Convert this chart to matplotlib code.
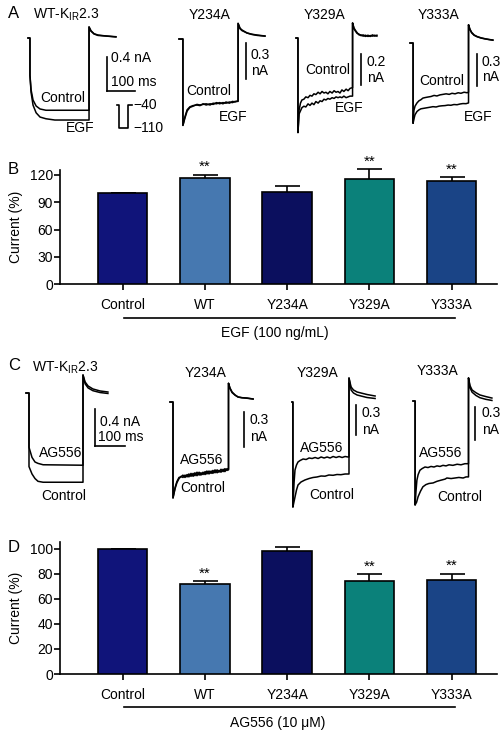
import matplotlib
matplotlib.use("Agg")

import numpy as np
import matplotlib.pyplot as plt
from matplotlib.transforms import blended_transform_factory

plt.rcParams["font.family"] = ["Liberation Sans", "DejaVu Sans"]
plt.rcParams["mathtext.default"] = "regular"
plt.rcParams["font.size"] = 10

W, H = 502, 733

# -------------------------------
# Bar data (current, % of control)
# -------------------------------
groups = ["Control", "WT", "Y234A", "Y329A", "Y333A"]
egf_mean = [100, 116.4, 101.3, 115.6, 113.0]
egf_sem = [0, 3.9, 6.3, 10.4, 4.5]
ag_mean = [100, 72.1, 98.4, 74.0, 75.3]
ag_sem = [0, 2.1, 3.2, 5.6, 4.7]
sig = ["", "**", "", "**", "**"]
bar_colors = ["#10147a", "#4678b0", "#0b0f5e", "#0b817a", "#1a4486"]

# -------------------------------
# Current traces: [time (ms), current (nA)]
# -------------------------------
egf_wt_ctrl = np.array([[0, 0], [7, 0], [7, -0.44], [11, -0.61], [18, -0.73], [29, -0.80], [43, -0.835],
                        [64, -0.85], [218, -0.85], [218, 0.13], [225, 0.08], [236, 0.047], [250, 0.03],
                        [275, 0.024], [314, 0.012]])
egf_wt_egf = np.array([[0, 0], [7, 0], [7, -0.44], [11, -0.64], [18, -0.79], [29, -0.88], [43, -0.93],
                       [64, -0.95], [96, -0.965], [218, -0.965], [218, 0.13], [225, 0.085], [236, 0.05],
                       [250, 0.035], [275, 0.025], [314, 0.015]])

egf_234_ctrl = np.array([[0, 0], [14, 0], [14, -0.72], [21, -0.65], [29, -0.59], [39, -0.565], [50, -0.555],
                         [64, -0.55], [75, -0.555], [86, -0.54], [97, -0.55], [111, -0.54], [122, -0.545],
                         [134, -0.53], [145, -0.54], [157, -0.53], [168, -0.535], [180, -0.525], [191, -0.53],
                         [200, -0.52], [211, -0.52], [211, 0.13], [218, 0.09], [225, 0.075], [243, 0.05],
                         [260, 0.04], [279, 0.033], [307, 0.025]])
egf_234_egf = np.array([[0, 0], [14, 0], [14, -0.72], [21, -0.66], [29, -0.60], [39, -0.57], [50, -0.56],
                        [64, -0.545], [75, -0.55], [86, -0.545], [97, -0.54], [111, -0.55], [122, -0.535],
                        [134, -0.54], [145, -0.53], [157, -0.54], [168, -0.525], [180, -0.535], [191, -0.52],
                        [200, -0.525], [211, -0.515], [211, 0.13], [218, 0.085], [225, 0.07], [243, 0.05],
                        [260, 0.038], [279, 0.03], [307, 0.024]])

egf_329_ctrl = np.array([[0, 0], [7, 0], [7, -0.61], [11, -0.465], [16, -0.42], [21, -0.40], [28, -0.395],
                         [35, -0.38], [43, -0.385], [50, -0.37], [57, -0.375], [64, -0.36], [71, -0.365],
                         [79, -0.35], [86, -0.36], [93, -0.345], [100, -0.355], [107, -0.35], [114, -0.36],
                         [121, -0.345], [129, -0.355], [136, -0.34], [143, -0.35], [150, -0.345], [157, -0.355],
                         [164, -0.335], [171, -0.345], [179, -0.33], [186, -0.34], [193, -0.325], [202, -0.32],
                         [202, 0.097], [207, 0.06], [212, 0.045], [218, 0.03], [225, 0.025], [232, 0.015],
                         [240, 0.02], [248, 0.01], [257, 0.018], [265, 0.01], [273, 0.02], [281, 0.012],
                         [289, 0.018]])
egf_329_egf = np.array([[0, 0], [7, 0], [7, -0.61], [11, -0.49], [16, -0.47], [21, -0.45], [28, -0.44],
                        [35, -0.445], [43, -0.425], [50, -0.435], [57, -0.42], [64, -0.43], [71, -0.41],
                        [79, -0.42], [86, -0.405], [93, -0.41], [100, -0.395], [107, -0.40], [114, -0.39],
                        [121, -0.395], [129, -0.385], [136, -0.39], [143, -0.38], [150, -0.385], [157, -0.38],
                        [164, -0.385], [171, -0.375], [179, -0.385], [186, -0.38], [193, -0.375], [202, -0.375],
                        [202, 0.097], [207, 0.065], [212, 0.05], [218, 0.035], [225, 0.02], [232, 0.02],
                        [240, 0.012], [248, 0.018], [257, 0.01], [265, 0.016], [273, 0.012], [281, 0.018],
                        [289, 0.012]])

egf_333_ctrl = np.array([[0, 0], [11, 0], [11, -0.75], [14, -0.63], [18, -0.59], [25, -0.56], [32, -0.54],
                         [39, -0.53], [46, -0.515], [54, -0.51], [64, -0.505], [75, -0.50], [86, -0.49],
                         [96, -0.495], [107, -0.485], [118, -0.48], [129, -0.475], [140, -0.48], [150, -0.47],
                         [161, -0.475], [172, -0.465], [182, -0.47], [193, -0.46], [204, -0.465], [209, -0.46],
                         [209, 0.17], [214, 0.13], [220, 0.10], [229, 0.075], [240, 0.06], [254, 0.048],
                         [268, 0.04], [282, 0.033], [296, 0.028]])
egf_333_egf = np.array([[0, 0], [11, 0], [11, -0.75], [15, -0.70], [18, -0.67], [25, -0.64], [32, -0.625],
                        [39, -0.615], [50, -0.61], [61, -0.605], [72, -0.60], [82, -0.595], [93, -0.598],
                        [104, -0.59], [114, -0.587], [125, -0.585], [136, -0.58], [146, -0.582], [157, -0.575],
                        [168, -0.577], [179, -0.57], [189, -0.566], [200, -0.567], [209, -0.56], [209, 0.17],
                        [214, 0.125], [220, 0.095], [229, 0.072], [240, 0.058], [254, 0.046], [268, 0.038],
                        [282, 0.032], [296, 0.026]])

ag_wt_ag = np.array([[0, 0], [10, 0], [10, -0.59], [20, -0.70], [30, -0.75], [40, -0.765], [57, -0.78],
                     [190, -0.785], [190, 0.196], [197, 0.12], [207, 0.076], [223, 0.044], [247, 0.022],
                     [273, 0.011]])
ag_wt_ctrl = np.array([[0, 0], [10, 0], [10, -0.80], [20, -0.88], [30, -0.93], [40, -0.96], [57, -0.97],
                       [190, -0.97], [190, 0.196], [197, 0.10], [207, 0.055], [223, 0.025], [247, 0.005],
                       [273, -0.005]])

ag_234_ag = np.array([[0, 0], [10, 0], [10, -0.82], [17, -0.73], [23, -0.68], [30, -0.645], [37, -0.64],
                      [43, -0.625], [50, -0.645], [57, -0.62], [63, -0.64], [70, -0.61], [77, -0.635],
                      [83, -0.605], [90, -0.63], [97, -0.60], [103, -0.625], [110, -0.60], [117, -0.62],
                      [123, -0.59], [130, -0.615], [137, -0.59], [143, -0.61], [150, -0.58], [157, -0.605],
                      [163, -0.585], [170, -0.60], [177, -0.575], [183, -0.595], [190, -0.57], [195, -0.58],
                      [195, 0.16], [200, 0.12], [207, 0.085], [217, 0.06], [227, 0.043], [240, 0.037],
                      [257, 0.034], [277, 0.026]])
ag_234_ctrl = np.array([[0, 0], [10, 0], [10, -0.82], [17, -0.74], [23, -0.69], [30, -0.655], [37, -0.635],
                        [43, -0.645], [50, -0.625], [57, -0.64], [63, -0.615], [70, -0.635], [77, -0.61],
                        [83, -0.63], [90, -0.60], [97, -0.625], [103, -0.605], [110, -0.62], [117, -0.595],
                        [123, -0.615], [130, -0.59], [137, -0.61], [143, -0.585], [150, -0.605], [157, -0.58],
                        [163, -0.60], [170, -0.575], [177, -0.595], [183, -0.57], [190, -0.585], [195, -0.575],
                        [195, 0.16], [200, 0.115], [207, 0.08], [217, 0.058], [227, 0.042], [240, 0.036],
                        [257, 0.032], [277, 0.025]])

ag_329_ag = np.array([[0, 0], [3, 0], [3, -1.05], [7, -0.80], [10, -0.68], [15, -0.63], [20, -0.60],
                      [27, -0.585], [37, -0.57], [47, -0.575], [57, -0.56], [67, -0.565], [77, -0.555],
                      [87, -0.565], [97, -0.55], [107, -0.56], [117, -0.55], [127, -0.56], [137, -0.545],
                      [147, -0.555], [157, -0.545], [167, -0.555], [177, -0.545], [187, -0.55], [190, -0.55],
                      [190, 0.24], [197, 0.15], [205, 0.12], [217, 0.10], [230, 0.09], [250, 0.075],
                      [277, 0.06]])
ag_329_ctrl = np.array([[0, 0], [3, 0], [3, -1.05], [10, -0.95], [15, -0.88], [20, -0.83], [30, -0.80],
                        [43, -0.78], [57, -0.765], [70, -0.755], [83, -0.75], [97, -0.74], [110, -0.742],
                        [123, -0.73], [137, -0.733], [150, -0.725], [163, -0.727], [177, -0.72], [190, -0.72],
                        [190, 0.24], [197, 0.12], [205, 0.09], [217, 0.07], [230, 0.06], [250, 0.045],
                        [277, 0.035]])

ag_333_ag = np.array([[0, 0], [7, 0], [7, -0.945], [10, -0.82], [13, -0.72], [17, -0.67], [23, -0.63],
                      [30, -0.615], [40, -0.60], [50, -0.605], [60, -0.595], [70, -0.60], [80, -0.59],
                      [90, -0.595], [100, -0.585], [110, -0.59], [120, -0.58], [133, -0.585], [147, -0.575],
                      [160, -0.58], [173, -0.57], [185, -0.57], [185, 0.21], [190, 0.14], [197, 0.10],
                      [210, 0.075], [223, 0.055], [243, 0.04], [263, 0.027]])
ag_333_ctrl = np.array([[0, 0], [7, 0], [7, -0.945], [12, -0.92], [17, -0.87], [25, -0.82], [33, -0.78],
                        [43, -0.76], [53, -0.75], [67, -0.745], [80, -0.73], [93, -0.72], [107, -0.71],
                        [113, -0.70], [127, -0.705], [140, -0.70], [153, -0.695], [167, -0.70], [177, -0.69],
                        [185, -0.69], [185, 0.21], [190, 0.12], [197, 0.08], [210, 0.05], [223, 0.03],
                        [243, 0.015], [263, 0.005]])

# voltage protocol (mV)
prot_ms = [0, 6, 6, 34, 34, 46]
prot_mv = [-40, -40, -110, -110, -40, -40]

fig = plt.figure(figsize=(W / 100, H / 100), dpi=100)


def px(x, y):
    return x / W, 1 - y / H


def txt(x, y, s, ha="left", size=10):
    fig.text(*px(x, y), s, ha=ha, va="center", fontsize=size)


def trace_ax(x0, y0, px_ms, px_na, name):
    # full-figure axes whose origin (0 ms, 0 nA) lands at pixel (x0, y0)
    ax = fig.add_axes([0, 0, 1, 1], label=name)
    ax.set_xlim(-x0 / px_ms, (W - x0) / px_ms)
    ax.set_ylim((y0 - H) / px_na, y0 / px_na)
    ax.axis("off")
    return ax


def draw_trace(ax, traces, vbar, vlen, hbar=None):
    for tr in traces:
        ax.plot(tr[:, 0], tr[:, 1], color="black", lw=1.1)
    t, top = vbar
    ax.plot([t, t], [top, top - vlen], color="black", lw=1.2)
    if hbar:
        ax.plot([t, t + hbar], [top - vlen, top - vlen], color="black", lw=1.2)


# ---------- Panel A ----------
ax = trace_ax(28, 38, 0.28, 85, "a_wt")
draw_trace(ax, [egf_wt_ctrl, egf_wt_egf], (282, -0.224), 0.4, 100)
ax = trace_ax(179, 39, 0.28, 120, "a_234")
draw_trace(ax, [egf_234_ctrl, egf_234_egf], (239, -0.033), 0.3)
ax = trace_ax(296, 38, 0.28, 155, "a_329")
draw_trace(ax, [egf_329_ctrl, egf_329_egf], (232, -0.103), 0.2)
ax = trace_ax(410, 43, 0.28, 107, "a_333")
draw_trace(ax, [egf_333_ctrl, egf_333_egf], (239, -0.103), 0.3)

# voltage protocol icon
pax = fig.add_axes([117 / W, 1 - 128 / H, 15 / W, 23 / H], label="prot")
pax.plot(prot_ms, prot_mv, color="black", lw=1.2, clip_on=False)
pax.set_xlim(0, 46)
pax.set_ylim(-110, -40)
pax.axis("off")
pax.text(50, -40, "\u221240", fontsize=10, va="center", transform=pax.transData)
pax.text(50, -110, "\u2212110", fontsize=10, va="center", transform=pax.transData)

txt(8, 14, "A", size=12)
txt(33, 15, "WT-K$_{IR}$2.3")
txt(210, 15, "Y234A", ha="center")
txt(325, 15, "Y329A", ha="center")
txt(439, 15, "Y333A", ha="center")
txt(63, 98, "Control", ha="center")
txt(80, 128, "EGF", ha="center")
txt(111, 58, "0.4 nA")
txt(111, 82, "100 ms")
txt(209, 91, "Control", ha="center")
txt(233, 117, "EGF", ha="center")
txt(251, 55, "0.3")
txt(251, 71, "nA")
txt(328, 70, "Control", ha="center")
txt(349, 108, "EGF", ha="center")
txt(367, 62, "0.2")
txt(367, 78, "nA")
txt(442, 81, "Control", ha="center")
txt(478, 117, "EGF", ha="center")
txt(482, 62, "0.3")
txt(482, 77, "nA")

# ---------- Panel C ----------
ax = trace_ax(26, 393, 0.30, 92, "c_wt")
draw_trace(ax, [ag_wt_ag, ag_wt_ctrl], (230, -0.174), 0.4, 100)
ax = trace_ax(170, 402, 0.30, 117, "c_234")
draw_trace(ax, [ag_234_ag, ag_234_ctrl], (247, -0.085), 0.3)
ax = trace_ax(292, 402, 0.30, 100, "c_329")
draw_trace(ax, [ag_329_ag, ag_329_ctrl], (213, -0.03), 0.3)
ax = trace_ax(413, 401, 0.30, 110, "c_333")
draw_trace(ax, [ag_333_ag, ag_333_ctrl], (207, -0.055), 0.3)

txt(8, 365, "C", size=12)
txt(32, 368, "WT-K$_{IR}$2.3")
txt(206, 373, "Y234A", ha="center")
txt(318, 373, "Y329A", ha="center")
txt(438, 371, "Y333A", ha="center")
txt(61, 453, "AG556", ha="center")
txt(64, 496, "Control", ha="center")
txt(100, 422, "0.4 nA")
txt(98, 437, "100 ms")
txt(202, 460, "AG556", ha="center")
txt(203, 488, "Control", ha="center")
txt(250, 420, "0.3")
txt(250, 437, "nA")
txt(322, 448, "AG556", ha="center")
txt(332, 495, "Control", ha="center")
txt(362, 413, "0.3")
txt(362, 430, "nA")
txt(441, 453, "AG556", ha="center")
txt(460, 497, "Control", ha="center")
txt(482, 413, "0.3")
txt(482, 430, "nA")


# ---------- Bar panels ----------
def bar_panel(rect, means, sems, ymax, yticks, bracket_y, text_y, treat, x_text, letter, letter_y):
    ax = fig.add_axes(rect)
    x = np.arange(len(groups))
    ax.errorbar(x, means, yerr=sems, fmt="none", ecolor="black", elinewidth=1.2,
                capsize=9, capthick=1.2, zorder=2, clip_on=False)
    ax.bar(x, means, width=0.6, color=bar_colors, edgecolor="black", linewidth=1.2, zorder=3)
    for xi, m, s, star in zip(x, means, sems, sig):
        if star:
            ax.annotate(star, (xi, m + s), xytext=(0, 0.5), textcoords="offset points",
                        ha="center", va="bottom", fontsize=11, annotation_clip=False)
    ax.set_xlim(-0.76, 4.55)
    ax.set_ylim(0, ymax)
    ax.set_yticks(yticks)
    ax.set_xticks(x)
    ax.set_xticklabels(groups)
    for s in ["top", "right"]:
        ax.spines[s].set_visible(False)
    for s in ["left", "bottom"]:
        ax.spines[s].set_linewidth(1.2)
    ax.tick_params(axis="both", direction="out", length=4, width=1.2, labelsize=10)
    ax.tick_params(axis="x", pad=6)
    ax.tick_params(axis="y", pad=1)
    ax.set_ylabel("Current (%)", fontsize=10)
    ax.yaxis.set_label_coords(-0.085, 0.5)
    tr = blended_transform_factory(ax.transData, ax.transAxes)
    ax.plot([0.02, 4.04], [bracket_y, bracket_y], color="black", lw=1.2, transform=tr, clip_on=False)
    ax.text(x_text, text_y, treat, transform=tr, ha="center", va="center", fontsize=10)
    txt(8, letter_y, letter, size=12)
    return ax


bar_panel([60 / W, 1 - 284.3 / H, 437 / W, 113.9 / H], egf_mean, egf_sem, 125, [0, 30, 60, 90, 120],
          -0.293, -0.428, "EGF (100 ng/mL)", 1.85, "B", 170)
bar_panel([60 / W, 1 - 674 / H, 437 / W, 131.6 / H], ag_mean, ag_sem, 105, [0, 20, 40, 60, 80, 100],
          -0.248, -0.372, "AG556 (10 \u03bcM)", 1.88, "D", 547)

fig.savefig("out.png", dpi=100)
